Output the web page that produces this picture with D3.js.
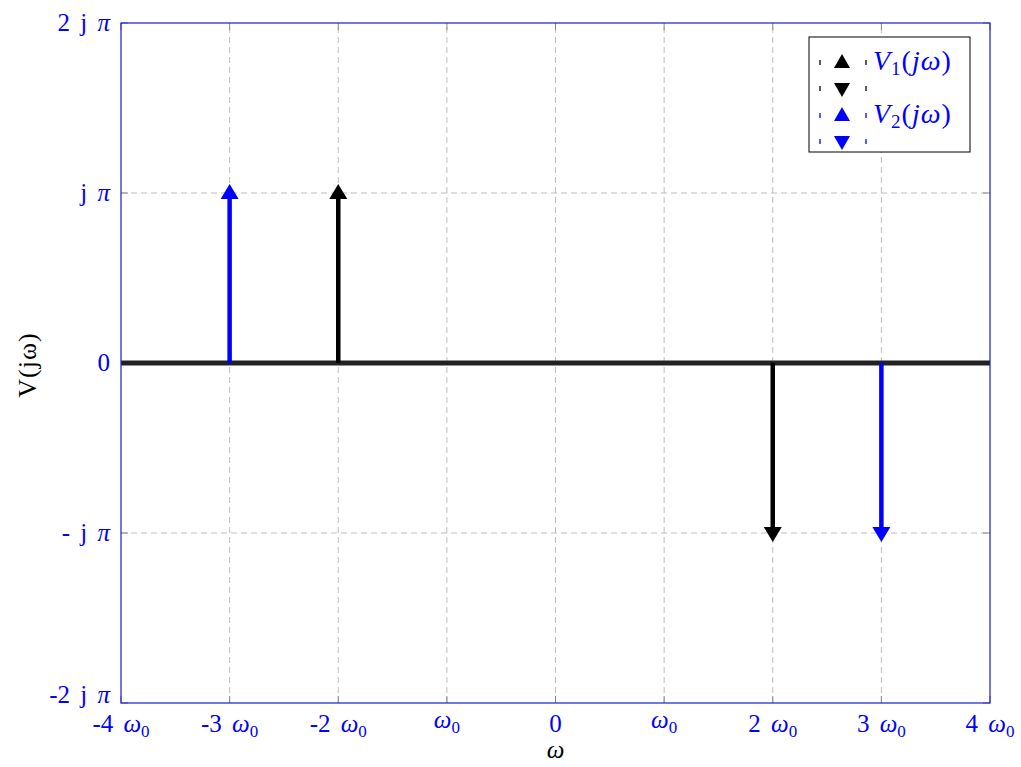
<!DOCTYPE html>
<html>
<head>
<meta charset="utf-8">
<script src="https://cdn.jsdelivr.net/npm/d3@7"></script>
<style>
  html, body { margin: 0; padding: 0; background: #fff; }
  svg { display: block; font-family: "Liberation Serif", "DejaVu Serif", serif; }
</style>
</head>
<body>
<svg id="chart" width="1021" height="767"></svg>
<script>
// Frequency positions in units of omega_0
const xTicks = [-4, -3, -2, -1, 0, 1, 2, 3, 4];
// Tick label parts: numeric prefix, and whether omega_0 follows
const xTickPrefix = ["-4 ", "-3 ", "-2 ", "", "0", "", "2 ", "3 ", "4 "];
const xTickHasOmega = [true, true, true, true, false, true, true, true, true];
// Imaginary-part levels in units of j*pi: text before pi, and whether pi follows
const yTicks = [-2, -1, 0, 1, 2];
const yTickPrefix = ["-2 j ", "- j ", "0", "j ", "2 j "];
const yTickHasPi = [true, true, false, true, true];

// Spectral impulses
const v1Freq = [-2, 2];
const v1Vals = [1, -1];
const v2Freq = [-3, 3];
const v2Vals = [1, -1];

const seriesNames = ["V", "V"];
const seriesSubs = ["1", "2"];
const seriesColors = ["#000000", "#0000ff"];

const svg = d3.select("#chart");
const margin = { left: 121, right: 31, top: 23, bottom: 64 };
const W = 1021, H = 767;
const x = d3.scaleLinear().domain([-4, 4]).range([margin.left, W - margin.right]);
const y = d3.scaleLinear().domain([-2, 2]).range([H - margin.bottom, margin.top]);
const frameColor = "#1a1ad9";
const labelColor = "#0000ff";
const fs = 25;

// Grid
const grid = svg.append("g");
grid.selectAll("line.gx").data(xTicks.filter(d => d > -4 && d < 4)).join("line")
  .attr("x1", d => x(d)).attr("x2", d => x(d))
  .attr("y1", y(-2)).attr("y2", y(2))
  .attr("stroke", "#bdbdbd").attr("stroke-width", 1).attr("stroke-dasharray", "6,4");
grid.selectAll("line.gy").data(yTicks.filter(d => d > -2 && d < 2 && d !== 0)).join("line")
  .attr("x1", x(-4)).attr("x2", x(4))
  .attr("y1", d => y(d)).attr("y2", d => y(d))
  .attr("stroke", "#bdbdbd").attr("stroke-width", 1).attr("stroke-dasharray", "6,4");

// Inner tick marks
const ticks = svg.append("g").attr("stroke", "#888").attr("stroke-width", 1);
xTicks.forEach(d => {
  ticks.append("line").attr("x1", x(d)).attr("x2", x(d)).attr("y1", y(-2)).attr("y2", y(-2) - 7);
  ticks.append("line").attr("x1", x(d)).attr("x2", x(d)).attr("y1", y(2)).attr("y2", y(2) + 7);
});
yTicks.forEach(d => {
  ticks.append("line").attr("x1", x(-4)).attr("x2", x(-4) + 7).attr("y1", y(d)).attr("y2", y(d));
  ticks.append("line").attr("x1", x(4)).attr("x2", x(4) - 7).attr("y1", y(d)).attr("y2", y(d));
});

// Zero baseline
svg.append("line")
  .attr("x1", x(-4)).attr("x2", x(4)).attr("y1", y(0)).attr("y2", y(0))
  .attr("stroke", "#222").attr("stroke-width", 5);

// Impulse arrows
function drawArrows(freqs, vals, color) {
  const g = svg.append("g");
  freqs.forEach((f, i) => {
    const v = vals[i];
    const dir = v > 0 ? -1 : 1; // pixel direction of the arrow
    const tipY = y(v) + dir * 9;
    const baseY = tipY - dir * 15;
    g.append("line")
      .attr("x1", x(f)).attr("x2", x(f))
      .attr("y1", y(0)).attr("y2", baseY)
      .attr("stroke", color).attr("stroke-width", 4.5);
    g.append("path")
      .attr("d", `M${x(f)},${tipY} L${x(f) - 9},${baseY} L${x(f) + 9},${baseY} Z`)
      .attr("fill", color);
  });
}
drawArrows(v2Freq, v2Vals, seriesColors[1]);
drawArrows(v1Freq, v1Vals, seriesColors[0]);

// Frame
svg.append("rect")
  .attr("x", x(-4)).attr("y", y(2))
  .attr("width", x(4) - x(-4)).attr("height", y(-2) - y(2))
  .attr("fill", "none").attr("stroke", frameColor).attr("stroke-width", 1.2);

// X tick labels
const xl = svg.append("g").attr("fill", labelColor).attr("font-size", fs)
  .attr("text-anchor", "middle").attr("word-spacing", 4);
xTicks.forEach((d, i) => {
  const bare = xTickHasOmega[i] && xTickPrefix[i] === "";
  const t = xl.append("text").attr("x", x(d)).attr("y", bare ? 728 : 732);
  if (xTickPrefix[i]) t.append("tspan").text(xTickPrefix[i]);
  if (xTickHasOmega[i]) {
    t.append("tspan").attr("font-style", "italic").text("\u03C9");
    t.append("tspan").attr("font-size", 17).attr("dy", 5).text("0");
  }
});

// Y tick labels
const yl = svg.append("g").attr("fill", labelColor).attr("font-size", fs)
  .attr("text-anchor", "end").attr("word-spacing", 4);
yTicks.forEach((d, i) => {
  const t = yl.append("text").attr("x", 110).attr("y", y(d) + 8 - (i === 0 ? 8 : 0));
  t.append("tspan").text(yTickPrefix[i]);
  if (yTickHasPi[i]) t.append("tspan").attr("font-style", "italic").text("\u03C0");
});

// Axis titles
svg.append("text").attr("x", x(0)).attr("y", 758).attr("text-anchor", "middle")
  .attr("font-size", fs).attr("font-style", "italic").attr("fill", "#000").text("\u03C9");
svg.append("text").attr("transform", `translate(36,${y(0) + 2}) rotate(-90)`)
  .attr("text-anchor", "middle").attr("font-size", fs + 1).attr("letter-spacing", 1)
  .attr("fill", "#000").text("V(j\u03C9)");

// Legend
const lg = svg.append("g");
lg.append("rect").attr("x", 809).attr("y", 37).attr("width", 161).attr("height", 115)
  .attr("fill", "#fff").attr("stroke", "#000").attr("stroke-width", 1);
const rows = [
  { c: seriesColors[0], up: true, y: 62, s: 0 },
  { c: seriesColors[0], up: false, y: 88, s: -1 },
  { c: seriesColors[1], up: true, y: 115, s: 1 },
  { c: seriesColors[1], up: false, y: 141, s: -1 }
];
rows.forEach(r => {
  const cx = 842;
  const path = r.up
    ? `M${cx},${r.y - 8} L${cx - 8},${r.y + 6} L${cx + 8},${r.y + 6} Z`
    : `M${cx},${r.y + 9} L${cx - 8},${r.y - 5} L${cx + 8},${r.y - 5} Z`;
  lg.append("path").attr("d", path).attr("fill", r.c);
  [820, 866].forEach(px => {
    lg.append("line").attr("x1", px).attr("x2", px).attr("y1", r.y - 2).attr("y2", r.y + 3)
      .attr("stroke", r.c).attr("stroke-width", 1.3);
  });
  if (r.s >= 0) {
    const t = lg.append("text").attr("x", 873).attr("y", r.y + 8).attr("font-size", 28)
      .attr("letter-spacing", 1).attr("fill", labelColor);
    t.append("tspan").attr("font-style", "italic").text(seriesNames[r.s]);
    t.append("tspan").attr("font-size", 19).attr("dy", 5).text(seriesSubs[r.s]);
    t.append("tspan").attr("dy", -5).text("(");
    t.append("tspan").attr("font-style", "italic").text("j\u03C9");
    t.append("tspan").text(")");
  }
});
</script>
</body>
</html>
